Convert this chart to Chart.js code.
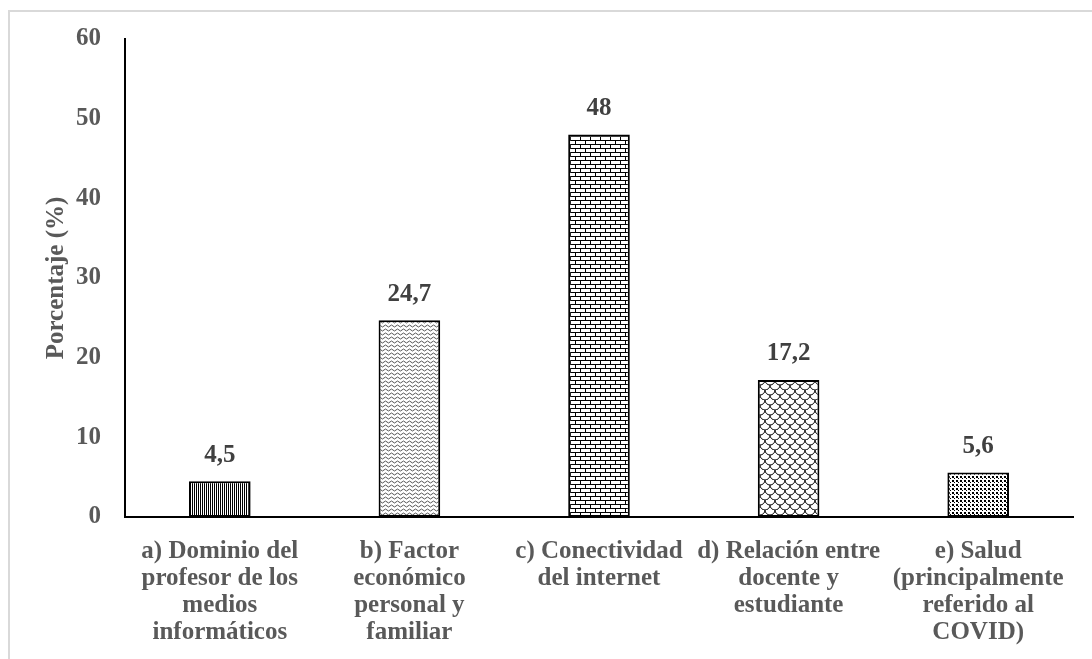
<!DOCTYPE html>
<html>
<head>
<meta charset="utf-8">
<script src="https://cdn.jsdelivr.net/npm/chart.js@4.4.0/dist/chart.umd.min.js"></script>
<style>
  html, body { margin: 0; padding: 0; background: #fff; }
  #wrap { position: relative; width: 1092px; height: 659px; }
</style>
</head>
<body>
<div id="wrap"><canvas id="myChart" width="1092" height="659"></canvas></div>
<script>
// data
const categories = [
  ["a) Dominio del", "profesor de los", "medios", "informáticos"],
  ["b) Factor", "económico", "personal y", "familiar"],
  ["c) Conectividad", "del internet"],
  ["d) Relación entre", "docente y", "estudiante"],
  ["e) Salud", "(principalmente", "referido al", "COVID)"]
];
const percentages = [4.5, 24.7, 48, 17.2, 5.6];
const valueLabels = ["4,5", "24,7", "48", "17,2", "5,6"];
const yTicks = [0, 10, 20, 30, 40, 50, 60];

const serif = "'Times New Roman', 'Liberation Serif', serif";
const canvas = document.getElementById("myChart");
const ctx = canvas.getContext("2d");

// small tiles used as hatch fills
const makePattern = (w, h, draw) => {
  const c = document.createElement("canvas");
  c.width = w;
  c.height = h;
  const g = c.getContext("2d");
  g.fillStyle = "#fff";
  g.fillRect(0, 0, w, h);
  g.fillStyle = "#000";
  g.strokeStyle = "#000";
  g.lineWidth = 1;
  draw(g, w, h);
  return ctx.createPattern(c, "repeat");
};

const patterns = [
  // vertical lines
  makePattern(2, 1, (g) => g.fillRect(0, 0, 1, 1)),
  // small waves
  makePattern(6, 4, (g) => {
    g.strokeStyle = "#555";
    g.beginPath();
    g.moveTo(0, 2);
    g.quadraticCurveTo(1.5, 0, 3, 2);
    g.quadraticCurveTo(4.5, 4, 6, 2);
    g.stroke();
  }),
  // bricks
  makePattern(10, 8, (g) => {
    g.fillRect(0, 0, 10, 1);
    g.fillRect(0, 4, 10, 1);
    g.fillRect(0, 0, 1, 4);
    g.fillRect(5, 4, 1, 4);
  }),
  // scales
  makePattern(10, 10, (g) => {
    g.beginPath();
    g.arc(0, 0, 5, 0, Math.PI / 2);
    g.stroke();
    g.beginPath();
    g.arc(10, 0, 5, Math.PI / 2, Math.PI);
    g.stroke();
    g.beginPath();
    g.arc(5, 5, 5, 0, Math.PI);
    g.stroke();
  }),
  // dots
  makePattern(4, 4, (g) => {
    g.fillRect(0, 0, 2, 2);
    g.fillRect(2, 2, 1, 1);
  })
];

// grey frame of the original figure
const framePlugin = {
  id: "frame",
  beforeDraw(chart) {
    const c = chart.ctx;
    c.save();
    c.strokeStyle = "#d9d9d9";
    c.lineWidth = 2;
    c.beginPath();
    c.moveTo(9, 659);
    c.lineTo(9, 11);
    c.lineTo(1092, 11);
    c.stroke();
    c.restore();
  }
};

// value labels above the bars
const valueLabelPlugin = {
  id: "valueLabels",
  afterDatasetsDraw(chart) {
    const c = chart.ctx;
    const meta = chart.getDatasetMeta(0);
    c.save();
    c.font = "bold 25px " + serif;
    c.fillStyle = "#404040";
    c.textAlign = "center";
    c.textBaseline = "middle";
    meta.data.forEach((bar, i) => {
      c.fillText(valueLabels[i], bar.x, bar.y - 26);
    });
    c.restore();
  }
};

new Chart(canvas, {
  type: "bar",
  data: {
    labels: categories,
    datasets: [
      {
        label: "Porcentaje",
        data: percentages,
        backgroundColor: patterns,
        borderColor: "#000",
        borderWidth: 2,
        borderSkipped: false,
        barPercentage: 0.325,
        categoryPercentage: 1
      }
    ]
  },
  options: {
    responsive: false,
    animation: false,
    layout: { padding: { left: 0, right: 19, top: 39, bottom: 0 } },
    plugins: {
      legend: { display: false },
      tooltip: { enabled: false }
    },
    scales: {
      x: {
        grid: { display: false },
        border: { display: true, color: "#000", width: 2 },
        ticks: {
          color: "#595959",
          font: { family: serif, size: 25, weight: "bold", lineHeight: 1.08 },
          padding: 13,
          maxRotation: 0,
          autoSkip: false
        },
        afterFit(scale) {
          scale.height = 142;
        }
      },
      y: {
        min: 0,
        max: 60,
        grid: { display: false },
        border: { display: true, color: "#000", width: 2 },
        afterBuildTicks(scale) {
          scale.ticks = yTicks.map((v) => ({ value: v }));
        },
        ticks: {
          color: "#595959",
          font: { family: serif, size: 25, weight: "bold" },
          padding: 16
        },
        title: {
          display: true,
          text: "Porcentaje (%)",
          color: "#595959",
          font: { family: serif, size: 25, weight: "bold" },
          padding: { top: 42, bottom: 0 }
        },
        afterFit(scale) {
          scale.width = 125;
        }
      }
    }
  },
  plugins: [framePlugin, valueLabelPlugin]
});
</script>
</body>
</html>
